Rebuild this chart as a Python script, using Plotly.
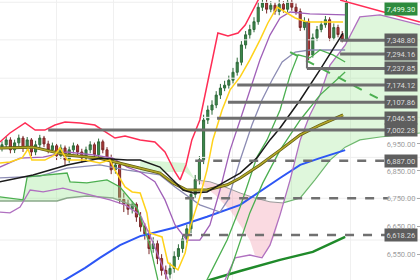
import math
import plotly.graph_objects as go

# ---------------- candles (index, price) ----------------
opens = [6935,6947,6965,6928,6954,6972,6935,6965,6920,6947,
         6972,6950,6928,6943,6906,6935,6891,6928,6943,6920,
         6898,6928,6947,6910,6958,6928,6898,6854,6872,6746,
         6728,6710,6728,6682,6647,6622,6570,6587,6535,6493,
         6480,6500,6542,6570,6604,6640,6764,6818,6891,7040,
         7078,7097,7135,7162,7173,7192,7223,7262,7330,7370,
         7391,7422,7480,7497,7472,7488,7463,7492,7472,7500,
         7480,7463,7399,7422,7290,7358,7391,7410,7430,7358,
         7399,7371,7351]
highs = [6960,6978,6975,6966,6985,6980,6976,6972,6962,6984,
         6980,6962,6955,6950,6948,6944,6940,6955,6950,6932,
         6940,6960,6955,6970,6966,6938,6910,6885,6880,6770,
         6745,6740,6735,6700,6660,6635,6610,6600,6550,6510,
         6520,6560,6585,6618,6655,6780,6835,6905,7060,7095,
         7115,7150,7178,7190,7210,7240,7280,7345,7385,7410,
         7440,7500,7520,7515,7505,7500,7510,7505,7520,7512,
         7495,7475,7440,7435,7375,7405,7425,7445,7440,7415,
         7410,7385,7510]
lows = [6922,6935,6915,6916,6940,6920,6925,6905,6908,6935,
        6938,6915,6918,6890,6895,6870,6880,6915,6905,6880,
        6885,6915,6895,6900,6915,6885,6838,6840,6730,6700,
        6690,6695,6665,6630,6600,6550,6555,6515,6475,6462,
        6465,6485,6530,6555,6590,6625,6750,6800,6875,7025,
        7060,7085,7120,7150,7160,7180,7210,7250,7315,7355,
        7380,7410,7465,7455,7460,7450,7448,7458,7460,7466,
        7450,7385,7388,7270,7280,7345,7380,7398,7345,7348,
        7360,7340,7340]
closes = [6947,6965,6928,6954,6972,6935,6965,6920,6947,6972,
          6950,6928,6943,6906,6935,6891,6928,6943,6920,6898,
          6928,6947,6910,6958,6928,6898,6854,6872,6746,6728,
          6710,6728,6682,6647,6622,6570,6587,6535,6493,6480,
          6500,6542,6570,6604,6640,6764,6818,6891,7040,7078,
          7097,7135,7162,7173,7192,7223,7262,7330,7370,7391,
          7422,7480,7497,7472,7488,7463,7492,7472,7500,7480,
          7463,7399,7422,7290,7358,7391,7410,7430,7358,7399,
          7371,7351,7499.3]
bar_index = list(range(len(closes)))

# ---------------- indicator lines ----------------
red_x = [-0.5,1.9,5.5,7.9,10.2,12.6,15,18.6,22.1,24.5,26.9,29.3,32.9,36.4,38.8,41.2,42.4,43.8,45.2,47.1,49.5,51.4,53.8,56.2,57.9,61,61.9]
red_y = [6957,6991,7029,7002,7002,7021,7032,7029,7021,6995,6972,6980,6965,6957,6920,6846,6817,6872,6965,7040,7232,7377,7365,7377,7409,7509,7550]
red_trend_x = [80.5, 99.5]
red_trend_y = [7509, 7421]

yellow_x = [-0.5,1.9,4.8,6.2,7.1,10.2,12.6,13.8,15.5,19.8,23.3,25.7,26.9,29.3,31,32.9,34.5,35.2,38.1,39.5,41.9,43.6,44.8,46,47.1,48.8,50.2,52.4,54.3,56.7,59,61.4,63.3,65.5,67.4,69.8,72.6,81.2]
yellow_y = [6879,6883,6898,6931,6890,6890,6909,6935,6890,6890,6879,6890,6853,6791,6773,6769,6697,6625,6611,6520,6495,6554,6647,6707,6755,6853,6965,7078,7155,7205,7271,7349,7417,7481,7461,7437,7421,7421]

black_x = [-0.5,7.4,15.5,23.3,29.8,32.9,37.6,40.7,43.1,45.5,48.8,52.6,56.7,60.7,63.8,66.2,71,75.7,81.2]
black_y = [6810,6835,6872,6897,6890,6890,6864,6817,6780,6769,6773,6806,6842,6898,6965,7010,7116,7232,7377]

olive_x = [-0.5,7.4,15.5,23.3,29.8,32.9,37.6,40.7,44,48.8,53.6,56.7,61.4,66.2,71,75.7,81.2]
olive_y = [6935,6938,6909,6897,6872,6860,6842,6806,6780,6780,6799,6824,6872,6927,6984,7021,7059]

blue_x = [9,15,19.8,23.3,28.1,32.9,40.7,48.8,56.7,66.2,71,75.7,81.7]
blue_y = [6408,6460,6502,6537,6582,6614,6643,6683,6726,6824,6872,6897,6927]

dkgreen_x = [47.1,49.5,56.7,66.2,74,81.7]
dkgreen_y = [6443,6460,6491,6530,6558,6611]

green_a_x = [-0.5,5,6,15.5,16.2,20.2,25,28.1,32.1,33.6,35.2,37.1,38.8,44.8,48.8,53.6,56.7,60.7,63.1,66.2,68.6,70.5,73.3,75.7,78.8,81.7]
green_a_y = [6755,6744,6828,6842,6810,6806,6817,6791,6718,6654,6582,6460,6392,6357,6460,6600,6718,6901,6965,7078,7212,7291,7279,7310,7291,7263]

green_b_x = [53.6,56,59,62.1,66.2,71,75.7,81.7]
green_b_y = [6460,6565,6697,6806,6927,7040,7135,7224]

green_dash_x = [68.6, 91.2]
green_dash_y = [7302, 7108]

purple1_x = [-0.5,4.3,9.8,15.5,21.7,26.4,29.8,32.9,36.4,38.8,41.2,44,47.1,49.5,51.9,54.3,56.7,59,61.4,63.8,66.2,68.6,73.3,81.7]
purple1_y = [6864,6897,6901,6920,6909,6897,6864,6846,6810,6744,6654,6600,6600,6654,6780,6927,7040,7155,7271,7369,7437,7461,7453,7449]

purple2_x = [-0.5,1.9,4.3,6.7,9.8,14.5,21,25.7,29.3,32.9,35.2,37.6,40,47.1,53.1,55.5,59,61.9,63.8,66.2,68.6,71,73.3,75.7,78.1,81.7,85.2,90,94.8,99.5]
purple2_y = [6700,6697,6718,6780,6773,6787,6762,6744,6726,6690,6618,6530,6443,6392,6460,6537,6547,6537,6582,6690,6817,6965,7059,7135,7251,7329,7441,7449,7429,7409]

slate_x = [-0.5,9,15.5,23.3,29.8,32.9,37.6,41.2,47.1,51.9,53.8,56.7,59.5,61.9,64.3,66.7,69.8,73.3,81.7]
slate_y = [6824,6831,6860,6872,6853,6846,6835,6791,6726,6700,6744,6890,7021,7116,7193,7263,7302,7310,7310]

# ---------------- cloud ----------------
cloud1_x = [-0.5,5,6,15.5,16.2,20.2,25,28.1,32.1]
cloud1_top = [6755,6744,6828,6842,6810,6806,6817,6791,6718]
cloud1_bot_x = [-0.5,13.1,15.5,20.2,26.4,32.1]
cloud1_bot = [6740,6740,6751,6758,6751,6718]

cloud2_x = [32.9,43.6,46]
cloud2_top = [6890,6879,6817]
cloud2_bot = [6846,6846,6817]

pink_top_x = [46,49.5,53.1,56.7,60.2,63.8,66.9]
pink_top = [6817,6810,6791,6769,6751,6737,6733]
pink_bot_x = [46,50.7,54.3,56.7,59,60.2,61.9,63.3,65,66.2,66.9]
pink_bot = [6817,6763,6707,6654,6600,6547,6537,6565,6618,6690,6733]

cloud3_top_x = [66.9,68.6,71,73.3,75.7,78.1,81.7,85.2,90,94.8,99.5]
cloud3_top = [6733,6817,6965,7059,7135,7251,7329,7441,7449,7429,7409]
cloud3_bot_x = [66.9,71,74.5,78.1,81.7,85.2,90,99.5]
cloud3_bot = [6733,6751,6817,6890,6938,6965,6976,6991]

# ---------------- price levels ----------------
solid_levels = [7348.80, 7294.16, 7237.85, 7174.12, 7107.86, 7046.55, 7002.28]
solid_start = [80.5, 80.5, 72.6, 56.0, 53.8, 51.2, 11.0]
dashed_levels = [6887.00, 6750.00, 6618.26]
dashed_start = [46.0, 43.6, 43.1]
level_end = 92
box_x = [72.6, 72.6]
box_y = [7237.85, 7421]

badge_values = [7348.80, 7294.16, 7237.85, 7174.12, 7107.86, 7046.55, 7002.28, 6887.00, 6618.26]
last_price = 7499.30

tick_vals = [6450, 6550, 6650, 6750, 6850, 6950]
grid_levels = [7500, 7350, 7200, 7050, 6900, 6750, 6600]
vgrid = [13, 26.6, 40.7, 54.8, 69, 83, 97]

X_RANGE = [-0.476, 99.52]
Y_RANGE = [6459.7, 7509.2]

fig = go.Figure()

def line(x, y, color, width=1.3, dash=None):
    fig.add_trace(go.Scatter(x=x, y=y, mode="lines", hoverinfo="skip", showlegend=False,
                             line=dict(color=color, width=width, dash=dash)))

def band(tx, ty, bx, by, color):
    fig.add_trace(go.Scatter(x=list(tx) + list(bx)[::-1], y=list(ty) + list(by)[::-1],
                             mode="lines", fill="toself", fillcolor=color,
                             line=dict(width=0), hoverinfo="skip", showlegend=False))

# grid
for g in grid_levels:
    line(X_RANGE, [g, g], "#eeeeee", 1)

band(cloud1_x, cloud1_top, cloud1_bot_x, cloud1_bot, "rgba(150,230,140,0.35)")
band(cloud2_x, cloud2_top, cloud2_x, cloud2_bot, "rgba(150,230,140,0.35)")
band(pink_top_x, pink_top, pink_bot_x, pink_bot, "rgba(240,150,170,0.35)")
band(cloud3_top_x, cloud3_top, cloud3_bot_x, cloud3_bot, "rgba(150,230,140,0.3)")
line(cloud1_bot_x, cloud1_bot, "#8aa98a", 1.5)
line(cloud3_bot_x, cloud3_bot, "#6fb86f", 1.2)
line(pink_top_x, pink_top, "#9a9a9a", 1)

line(blue_x, blue_y, "#2d56f5", 2)
line(dkgreen_x, dkgreen_y, "#1f8a2a", 2.5)
line(purple2_x, purple2_y, "#b070c0", 1.3)
line(slate_x, slate_y, "#8c8cb4", 1.3)
line(purple1_x, purple1_y, "#a060b8", 1.3)
line(green_a_x, green_a_y, "#4caf50", 1.3)
line(green_b_x, green_b_y, "#4caf50", 1.3)
line(green_dash_x, green_dash_y, "#4caf50", 2, "dash")
line(olive_x, olive_y, "#5e5a10", 3)
line(olive_x, olive_y, "#b3a82a", 1.5)
line(black_x, black_y, "#1a1a1a", 1.5)
line(red_x, red_y, "#ff2d55", 1.5)
line(red_trend_x, red_trend_y, "#ff2d55", 1.5)
line(yellow_x, yellow_y, "#ffd21a", 1.5)

fig.add_trace(go.Candlestick(
    x=bar_index, open=opens, high=highs, low=lows, close=closes,
    increasing=dict(line=dict(color="#2f6b3b", width=1), fillcolor="#3d8a4c"),
    decreasing=dict(line=dict(color="#7a2828", width=1), fillcolor="#b03a3a"),
    whiskerwidth=0, showlegend=False, hoverinfo="skip"))

for v, s in zip(solid_levels, solid_start):
    line([s, level_end], [v, v], "#6f6f6f", 3)
for v, s in zip(dashed_levels, dashed_start):
    line([s, level_end], [v, v], "#707070", 2.5, "dash")
line(box_x, box_y, "#6f6f6f", 2)

annotations = []
for v in badge_values:
    annotations.append(dict(xref="paper", yref="y", x=0.996, xanchor="right",
                            y=math.log10(v), yanchor="middle", showarrow=False,
                            text=f"{v:,.2f}", font=dict(size=7.5, color="#dcdcdc", family="Roboto"),
                            bgcolor="#5e5e5e", borderpad=1.5))
annotations.append(dict(xref="paper", yref="y", x=0.996, xanchor="right",
                        y=math.log10(last_price), yanchor="top", showarrow=False,
                        text=f"{last_price:,.2f}", font=dict(size=7.5, color="#e8ffe8", family="Roboto"),
                        bgcolor="#2e8b3e", borderpad=1.5))

fig.update_layout(
    width=420, height=280, margin=dict(l=0, r=0, t=0, b=0),
    paper_bgcolor="white", plot_bgcolor="white",
    annotations=annotations,
    xaxis=dict(range=X_RANGE, showticklabels=False, tickvals=vgrid, showgrid=True,
               gridcolor="#f0f0f0", zeroline=False, rangeslider=dict(visible=False), fixedrange=True),
    yaxis=dict(type="log", range=[math.log10(Y_RANGE[0]), math.log10(Y_RANGE[1])], side="right",
               tickvals=tick_vals, ticktext=[f"{t:,.2f}" for t in tick_vals],
               ticklabelposition="inside", ticks="inside", ticklen=3, tickcolor="#aaaaaa",
               tickfont=dict(size=7.5, color="#a0a0a0", family="Roboto"),
               showgrid=False, zeroline=False, showline=False),
)

fig.write_html("out.html")
